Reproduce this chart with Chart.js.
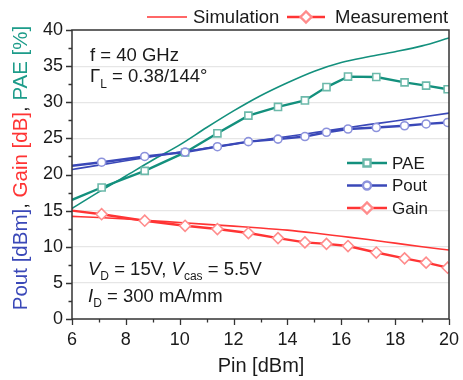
<!DOCTYPE html>
<html>
<head>
<meta charset="utf-8">
<script src="https://cdn.jsdelivr.net/npm/chart.js@4/dist/chart.umd.min.js"></script>
<style>
  html, body { margin: 0; padding: 0; background: #fff; }
  #wrap { width: 463px; height: 380px; position: relative; }
</style>
</head>
<body>
<div id="wrap"><canvas id="chart-pa"></canvas></div>
<script>
// simulation (solid, no markers)
const simPin = [6, 7, 8, 9, 10, 11, 12, 13, 14, 15, 16, 17, 18, 19, 20];
const simPAE = [15.3, 17.6, 19.8, 22.0, 24.1, 26.5, 28.8, 30.9, 32.7, 34.3, 35.5, 36.3, 37.0, 37.8, 38.9];
const simPout = [20.7, 21.3, 21.9, 22.5, 23.1, 23.65, 24.2, 24.75, 25.25, 25.8, 26.35, 26.9, 27.4, 27.95, 28.5];
const simGain = [14.2, 14.05, 13.85, 13.6, 13.35, 13.1, 12.85, 12.6, 12.3, 11.9, 11.45, 11.0, 10.5, 10.0, 9.55];

// measurement (first point sits on the axis, no marker there)
const measPin = [6, 7.1, 8.7, 10.2, 11.4, 12.55, 13.65, 14.65, 15.45, 16.25, 17.3, 18.35, 19.15, 19.95];
const measPAE = [16.5, 18.2, 20.5, 23.05, 25.7, 28.15, 29.35, 30.25, 32.1, 33.55, 33.5, 32.75, 32.3, 31.8];
const measPout = [21.2, 21.7, 22.5, 23.1, 23.85, 24.55, 24.9, 25.25, 25.85, 26.3, 26.5, 26.75, 27.0, 27.2];
const measGain = [15.0, 14.5, 13.6, 12.9, 12.45, 11.9, 11.2, 10.6, 10.4, 10.1, 9.2, 8.4, 7.8, 7.1];

const xTicks = [6, 8, 10, 12, 14, 16, 18, 20];
const yTicks = [0, 5, 10, 15, 20, 25, 30, 35, 40];

const COLORS = {
  pae: "#13907d",
  paeMark: "#6cb9aa",
  pout: "#3a48b8",
  poutMark: "#8c92dc",
  gain: "#ff3434",
  gainMark: "#ff8c8c",
  text: "#1a1a1a",
  grid: "#e6e6e6",
};
const FONT = "'Liberation Sans', Arial, sans-serif";

const pts = (xs, ys) => xs.map((x, i) => ({ x: x, y: ys[i] }));
const markR = (r) => measPin.map((_, i) => (i === 0 ? 0 : r));

function simSet(label, ys, color) {
  return {
    label: label,
    data: pts(simPin, ys),
    borderColor: color,
    borderWidth: 1.6,
    pointRadius: 0,
    cubicInterpolationMode: "monotone",
  };
}

function measSet(label, ys, color, markColor, style, r) {
  return {
    label: label,
    data: pts(measPin, ys),
    borderColor: color,
    borderWidth: 2.4,
    pointStyle: style,
    pointRadius: markR(r),
    pointBorderColor: markColor,
    pointBackgroundColor: "#fff",
    pointBorderWidth: 1.6,
  };
}

// рамка, засечки, подписи и легенды
const decorPlugin = {
  id: "decor",
  afterDraw(chart) {
    const ctx = chart.ctx;
    const a = chart.chartArea;
    const sx = chart.scales.x;
    const sy = chart.scales.y;
    ctx.save();

    // frame
    ctx.strokeStyle = "#333";
    ctx.lineWidth = 1.5;
    ctx.strokeRect(a.left, a.top, a.right - a.left, a.bottom - a.top);

    // ticks
    ctx.lineWidth = 1.3;
    ctx.beginPath();
    for (let v = 6; v <= 20; v += 1) {
      const px = Math.round(sx.getPixelForValue(v)) + 0.5;
      ctx.moveTo(px, a.bottom);
      ctx.lineTo(px, a.bottom + (v % 2 === 0 ? 6 : 3.5));
    }
    for (let v = 0; v <= 40; v += 2.5) {
      const py = Math.round(sy.getPixelForValue(v)) + 0.5;
      ctx.moveTo(a.left, py);
      ctx.lineTo(a.left - (v % 5 === 0 ? 6 : 3.5), py);
    }
    ctx.stroke();

    // x title
    ctx.fillStyle = COLORS.text;
    ctx.font = "20px " + FONT;
    ctx.textAlign = "center";
    ctx.textBaseline = "middle";
    ctx.fillText("Pin [dBm]", 261, 366);

    // y title, three colours
    const parts = [
      ["Pout [dBm]", COLORS.pout],
      [", ", COLORS.text],
      ["Gain [dB]", COLORS.gain],
      [", ", COLORS.text],
      ["PAE [%]", "#1d9c8a"],
    ];
    ctx.save();
    ctx.translate(21, 168);
    ctx.rotate(-Math.PI / 2);
    ctx.font = "20.5px " + FONT;
    ctx.textAlign = "left";
    let total = 0;
    parts.forEach((p) => (total += ctx.measureText(p[0]).width));
    let cx = -total / 2;
    parts.forEach((p) => {
      ctx.fillStyle = p[1];
      ctx.fillText(p[0], cx, 0);
      cx += ctx.measureText(p[0]).width;
    });
    ctx.restore();

    // annotations
    const big = "18.5px " + FONT;
    const sub = "12px " + FONT;
    const it = "italic 18.5px " + FONT;
    ctx.fillStyle = COLORS.text;
    ctx.textAlign = "left";
    ctx.textBaseline = "alphabetic";
    const run = (x, y, pieces) => {
      pieces.forEach((p) => {
        ctx.font = p[1];
        ctx.fillText(p[0], x, y + (p[2] || 0));
        x += ctx.measureText(p[0]).width;
      });
    };
    run(90, 61, [["f = 40 GHz", big]]);
    run(90, 82, [["\u0393", big], ["L", sub, 6], [" = 0.38/144\u00b0", big]]);
    run(88, 275, [["V", it], ["D", sub, 5], [" = 15V, ", big], ["V", it], ["cas", sub, 5], [" = 5.5V", big]]);
    run(88, 302, [["I", it], ["D", sub, 5], [" = 300 mA/mm", big]]);

    // top legend
    ctx.strokeStyle = COLORS.gain;
    ctx.lineWidth = 1.6;
    ctx.beginPath();
    ctx.moveTo(147, 17);
    ctx.lineTo(187, 17);
    ctx.stroke();
    ctx.lineWidth = 2.4;
    ctx.beginPath();
    ctx.moveTo(287, 17);
    ctx.lineTo(325, 17);
    ctx.stroke();
    ctx.fillStyle = "#fff";
    ctx.strokeStyle = COLORS.gainMark;
    Chart.helpers.drawPoint(ctx, { pointStyle: "rectRot", radius: 5.5, rotation: 0, borderWidth: 1.6 }, 306, 17);
    ctx.fillStyle = COLORS.text;
    ctx.font = "18.5px " + FONT;
    ctx.textBaseline = "middle";
    ctx.fillText("Simulation", 193, 18);
    ctx.fillText("Measurement", 335, 18);

    // inner legend
    const items = [
      ["PAE", COLORS.pae, COLORS.paeMark, "rect", 5, 163],
      ["Pout", COLORS.pout, COLORS.poutMark, "circle", 4, 185.5],
      ["Gain", COLORS.gain, COLORS.gainMark, "rectRot", 5.5, 208],
    ];
    items.forEach((m) => {
      ctx.strokeStyle = m[1];
      ctx.lineWidth = 2.4;
      ctx.beginPath();
      ctx.moveTo(347, m[5]);
      ctx.lineTo(387, m[5]);
      ctx.stroke();
      ctx.fillStyle = "#fff";
      ctx.strokeStyle = m[2];
      Chart.helpers.drawPoint(ctx, { pointStyle: m[3], radius: m[4], rotation: 0, borderWidth: 1.6 }, 367, m[5]);
      ctx.fillStyle = COLORS.text;
      ctx.font = "17px " + FONT;
      ctx.fillText(m[0], 392, m[5] + 1);
    });

    ctx.restore();
  },
};

function initChart(canvasId = "chart-pa") {
  const canvas = document.getElementById(canvasId);
  if (!canvas) {
    console.error(`no canvas ${canvasId}`);
    return null;
  }

  return new Chart(canvas.getContext("2d"), {
    type: "line",
    data: {
      datasets: [
        measSet("Gain meas", measGain, COLORS.gain, COLORS.gainMark, "rectRot", 5.5),
        measSet("Pout meas", measPout, COLORS.pout, COLORS.poutMark, "circle", 4),
        measSet("PAE meas", measPAE, COLORS.pae, COLORS.paeMark, "rect", 5),
        simSet("Gain sim", simGain, COLORS.gain),
        simSet("Pout sim", simPout, COLORS.pout),
        simSet("PAE sim", simPAE, COLORS.pae),
      ],
    },
    plugins: [decorPlugin],
    options: {
      responsive: true,
      maintainAspectRatio: false,
      animation: false,
      layout: { padding: { top: 30, right: 14, left: 0, bottom: 0 } },
      scales: {
        x: {
          type: "linear",
          min: 6,
          max: 20,
          afterFit: (s) => {
            s.height = 61;
            s.paddingLeft = 0;
            s.paddingRight = 0;
          },
          afterBuildTicks: (s) => { s.ticks = xTicks.map((v) => ({ value: v })); },
          ticks: {
            padding: 10,
            color: COLORS.text,
            font: { size: 18, family: FONT },
            maxRotation: 0,
          },
          grid: { display: false, drawTicks: false },
          border: { display: false },
        },
        y: {
          min: 0,
          max: 40,
          afterFit: (s) => {
            s.width = 72;
            s.paddingTop = 0;
            s.paddingBottom = 0;
          },
          afterBuildTicks: (s) => { s.ticks = yTicks.map((v) => ({ value: v })); },
          ticks: {
            padding: 9,
            color: COLORS.text,
            font: { size: 18, family: FONT },
          },
          grid: {
            drawTicks: false,
            lineWidth: 1.2,
            color: (c) => (c.tick && (c.tick.value === 0 || c.tick.value === 40) ? "rgba(0,0,0,0)" : COLORS.grid),
          },
          border: { display: false },
        },
      },
      plugins: {
        legend: { display: false },
        tooltip: { enabled: false },
      },
    },
  });
}

initChart();
</script>
</body>
</html>
